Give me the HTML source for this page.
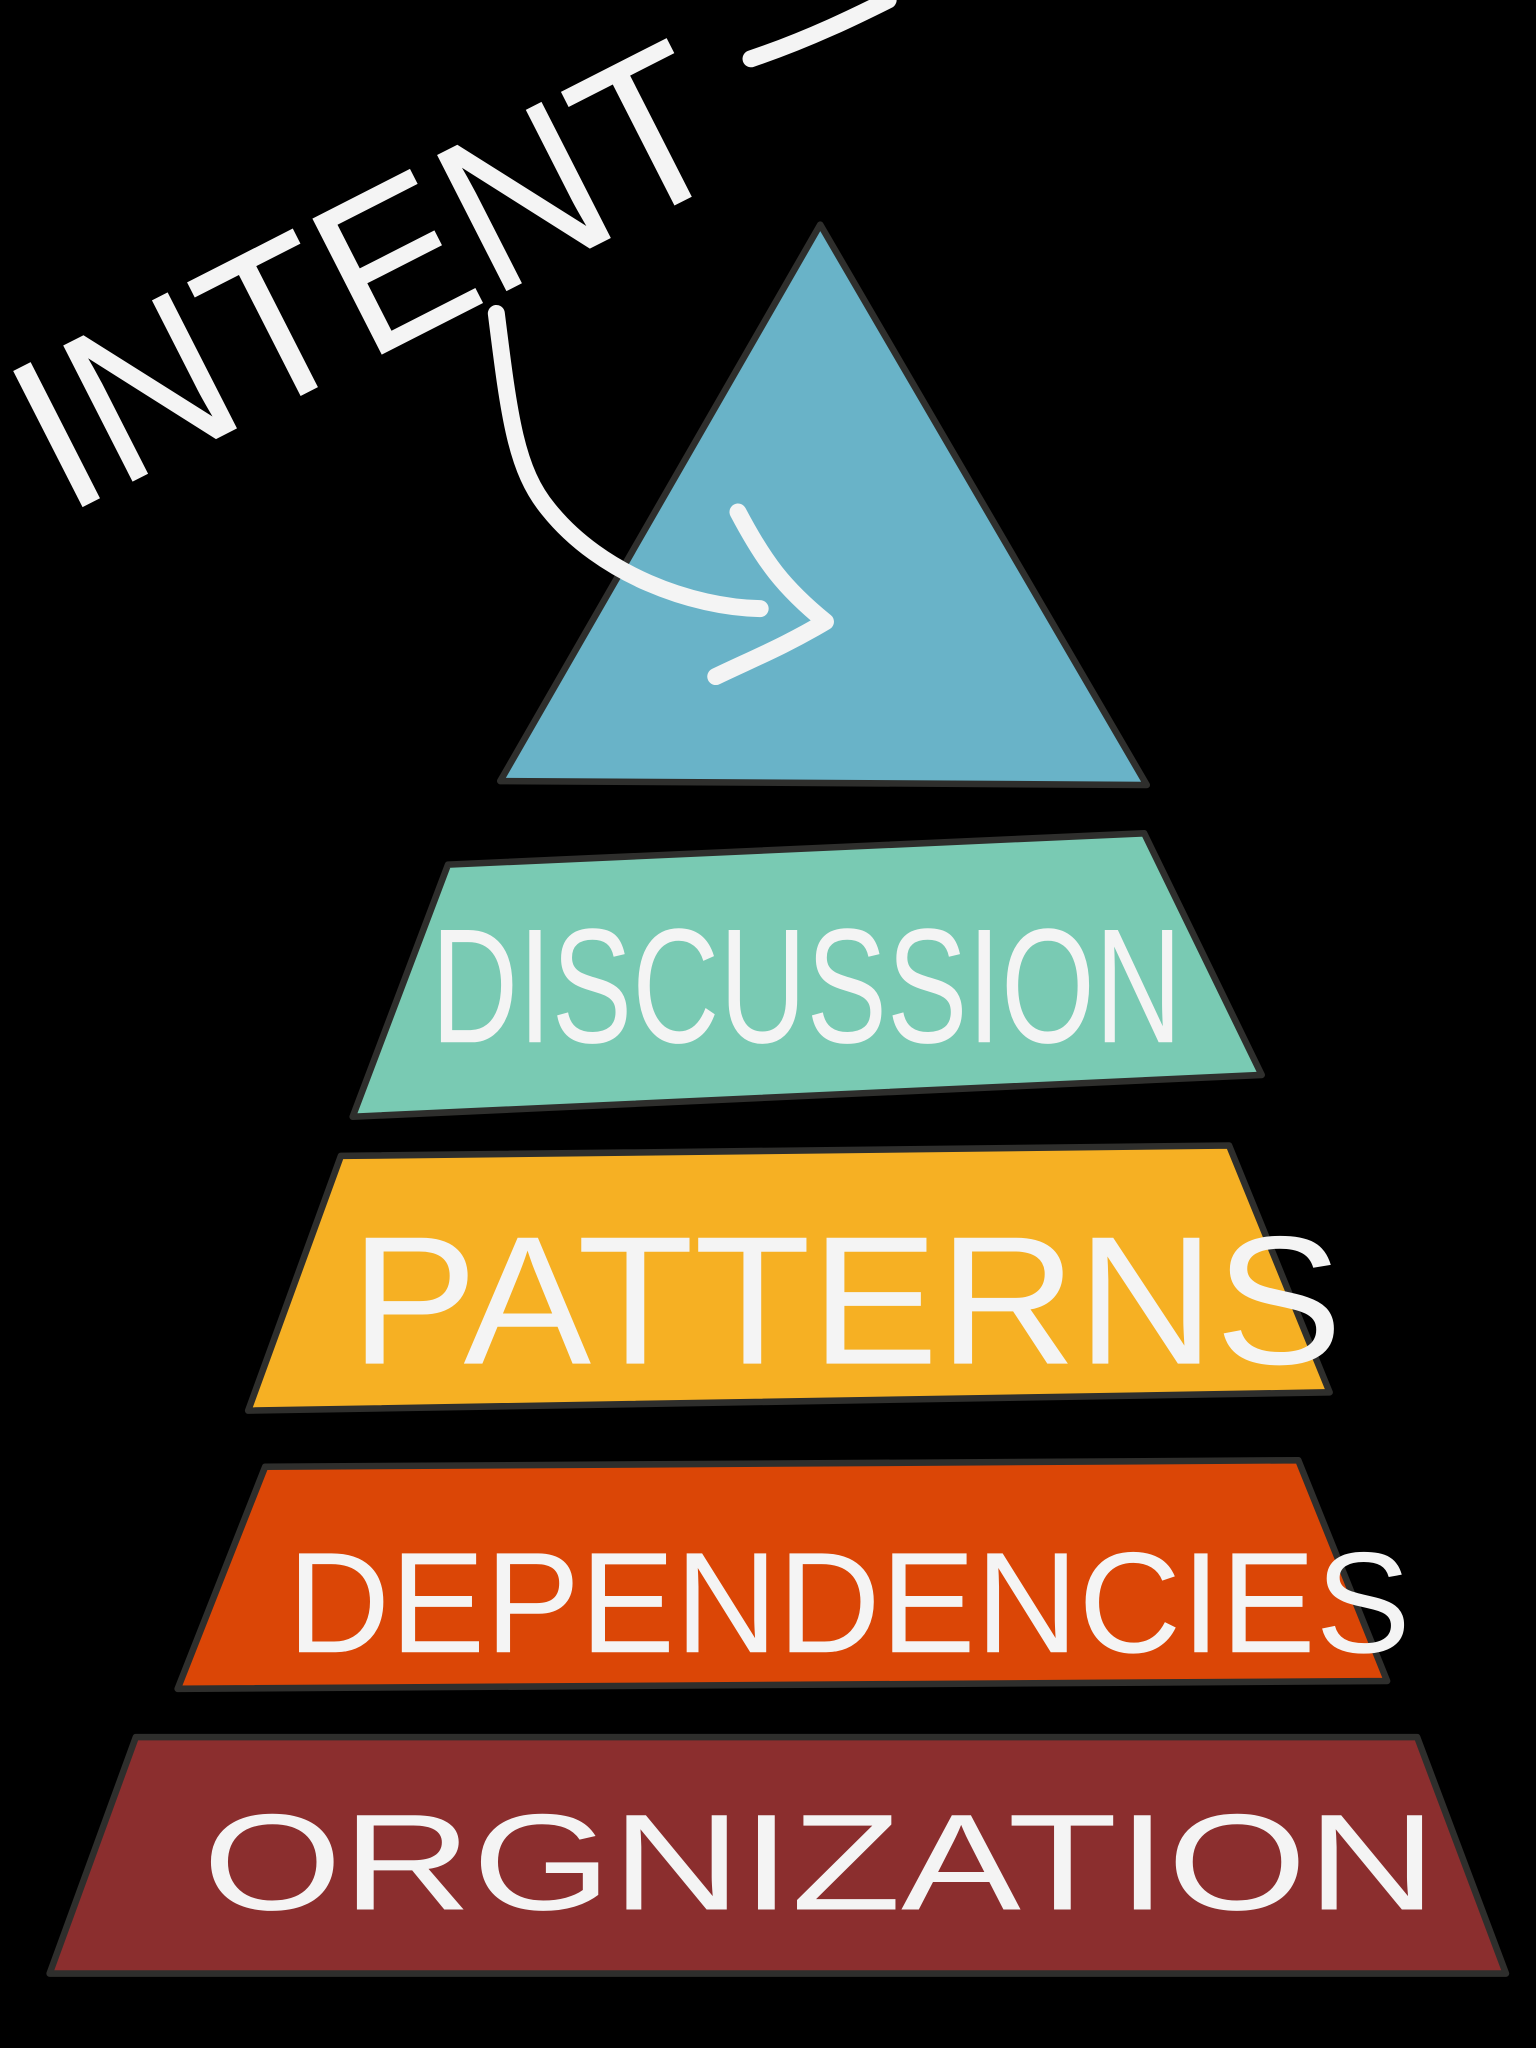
<!DOCTYPE html>
<html><head><meta charset="utf-8"><style>
html,body{margin:0;padding:0;background:#000;}
svg{display:block;}
text{font-family:"Liberation Sans",sans-serif;fill:#f4f4f4;stroke:none;}
</style></head><body>
<svg width="1536" height="2048" viewBox="0 0 1176 1568" xmlns="http://www.w3.org/2000/svg">
<rect width="1176" height="1568" fill="#000"/>
<g stroke="#2e2e2c" stroke-width="5" stroke-linejoin="round">
<polygon points="628,172 383,598 878,601" fill="#69b3c8"/>
<polygon points="343,662 876,638 966,823 270,855" fill="#79cab3"/>
<polygon points="261,885 941,877 1018,1066 190,1080" fill="#f6b023"/>
<polygon points="203,1123 994,1118 1062,1287 136,1293" fill="#db4606"/>
<polygon points="104,1330 1085,1330 1153,1511 38,1511" fill="#8b2e2e"/>
</g>
<g fill="none" stroke="#f4f4f4" stroke-width="13" stroke-linecap="round" stroke-linejoin="round">
<path d="M380,240 C390,320 395,360 420,390 C460,440 530,465 582,466"/>
<path d="M565,392 C585,430 600,450 632,476 C600,495 575,505 548,518"/>
<path d="M575,45 C620,30 660,10 680,0"/>
</g>
<text x="50" y="395" font-size="170" textLength="580" lengthAdjust="spacingAndGlyphs" transform="rotate(-27 50 395)">INTENT</text>
<text x="330" y="798" font-size="125" textLength="575" lengthAdjust="spacingAndGlyphs">DISCUSSION</text>
<text x="268" y="1044" font-size="140" textLength="760" lengthAdjust="spacingAndGlyphs">PATTERNS</text>
<text x="220" y="1265" font-size="110" textLength="860" lengthAdjust="spacingAndGlyphs">DEPENDENCIES</text>
<text x="155" y="1462" font-size="105" textLength="945" lengthAdjust="spacingAndGlyphs">ORGNIZATION</text>
</svg>
</body></html>
